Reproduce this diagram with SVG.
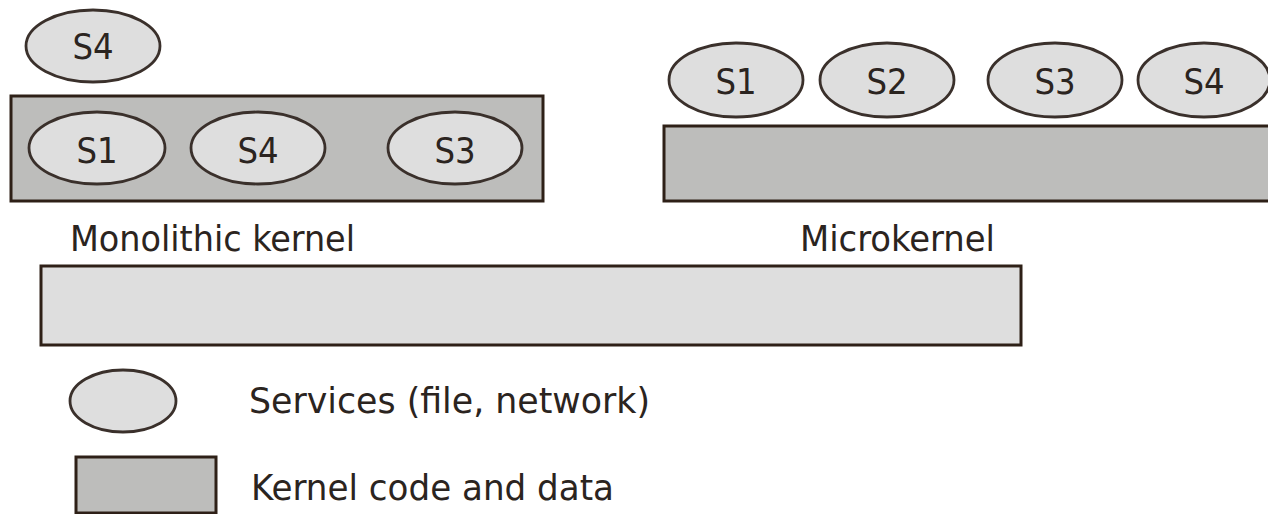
<svg xmlns="http://www.w3.org/2000/svg" width="1268" height="514" viewBox="0 0 1268 514">
<style>
.svc{fill:#dedede;stroke:#3a302b;stroke-width:2.8}
.krn{fill:#bdbdbb;stroke:#2e2017;stroke-width:3}
.hw{fill:#dedede;stroke:#2e2017;stroke-width:3}
.lbl{font-family:"DejaVu Sans Condensed","DejaVu Sans",Verdana,sans-serif;font-stretch:condensed;font-size:36px;fill:#2b2420;text-anchor:middle}
.txt{font-family:"DejaVu Sans Condensed","DejaVu Sans",Verdana,sans-serif;font-stretch:condensed;font-size:36px;fill:#2b2420}
</style>
<rect width="1268" height="514" fill="#ffffff"/>
<g id="mono-kernel"><rect class="krn" x="11" y="96" width="532" height="105"/></g>
<g id="mono-s4-out"><ellipse class="svc" cx="93" cy="46" rx="67" ry="36"/><text class="lbl" x="93" y="59">S4</text></g>
<g id="mono-s1"><ellipse class="svc" cx="97" cy="148" rx="68" ry="36"/><text class="lbl" x="97" y="163">S1</text></g>
<g id="mono-s4"><ellipse class="svc" cx="258" cy="148" rx="67" ry="36"/><text class="lbl" x="258" y="163">S4</text></g>
<g id="mono-s3"><ellipse class="svc" cx="455" cy="148" rx="67" ry="36"/><text class="lbl" x="455" y="163">S3</text></g>
<g id="micro-kernel"><rect class="krn" x="664" y="126" width="610" height="75"/></g>
<g id="micro-s1"><ellipse class="svc" cx="736" cy="80" rx="67" ry="37"/><text class="lbl" x="736" y="94">S1</text></g>
<g id="micro-s2"><ellipse class="svc" cx="887" cy="80" rx="67" ry="37"/><text class="lbl" x="887" y="94">S2</text></g>
<g id="micro-s3"><ellipse class="svc" cx="1055" cy="80" rx="67" ry="37"/><text class="lbl" x="1055" y="94">S3</text></g>
<g id="micro-s4"><ellipse class="svc" cx="1204" cy="80" rx="66" ry="37"/><text class="lbl" x="1204" y="94">S4</text></g>
<g id="label-mono"><text class="txt" x="70" y="251" textLength="285" lengthAdjust="spacingAndGlyphs">Monolithic kernel</text></g>
<g id="label-micro"><text class="txt" x="800" y="251" textLength="195" lengthAdjust="spacingAndGlyphs">Microkernel</text></g>
<g id="hardware"><rect class="hw" x="41" y="266" width="980" height="79"/></g>
<g id="legend-services"><ellipse class="svc" cx="123" cy="401" rx="53" ry="31"/><text class="txt" x="249" y="413" textLength="401" lengthAdjust="spacingAndGlyphs">Services (file, network)</text></g>
<g id="legend-kernel"><rect class="krn" x="76" y="457" width="140" height="56"/><text class="txt" x="251" y="500" textLength="363" lengthAdjust="spacingAndGlyphs">Kernel code and data</text></g>
<g id="connectors"></g>
</svg>
